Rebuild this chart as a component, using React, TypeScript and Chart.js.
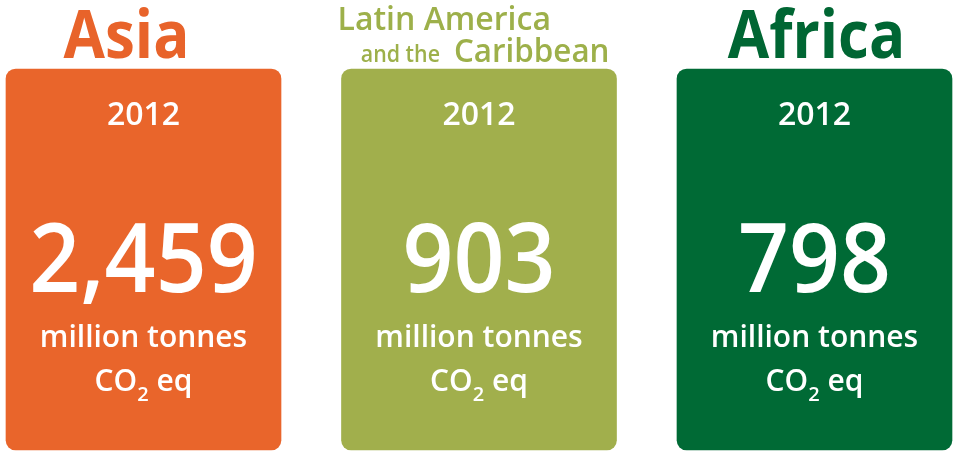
import React, { useEffect, useRef } from "react";
import { Chart, registerables } from "chart.js";

Chart.register(...registerables);

// ---- data ----
const regions = ["Asia", "Latin America and the Caribbean", "Africa"];
const years = ["2012", "2012", "2012"];
const emissions = [2459, 903, 798];
const unitLine = "million tonnes";
const unitGas = ["CO", "2", " eq"];
const boxHeight = regions.map(() => 1);

// ---- styles ----
const colors = ["#E9652B", "#A1AF4C", "#006A35"];
const titleColors = ["#E8632A", "#9DB04A", "#006633"];
const FAMILY = '"Open Sans", "Noto Sans", sans-serif';

function drawText(
  ctx: CanvasRenderingContext2D,
  text: string,
  x: number,
  y: number,
  font: string,
  align: CanvasTextAlign,
  sx = 1
) {
  ctx.save();
  ctx.font = font;
  ctx.textAlign = align;
  ctx.textBaseline = "alphabetic";
  ctx.translate(x, y);
  ctx.scale(sx, 1);
  ctx.fillText(text, 0, 0);
  ctx.restore();
}

function textWidth(ctx: CanvasRenderingContext2D, text: string, font: string, sx = 1) {
  ctx.save();
  ctx.font = font;
  const w = ctx.measureText(text).width * sx;
  ctx.restore();
  return w;
}

const textPlugin = {
  id: "cardText",
  afterDatasetsDraw(chart: any) {
    const ctx: CanvasRenderingContext2D = chart.ctx;
    const meta = chart.getDatasetMeta(0);
    const bigTitle = `700 66px ${FAMILY}`;
    const midTitle = `600 32px ${FAMILY}`;
    const smallTitle = `600 23px ${FAMILY}`;
    meta.data.forEach((bar: any, i: number) => {
      const cx = bar.x;
      const top = bar.y;
      ctx.fillStyle = titleColors[i];
      const name = regions[i];
      if (name.includes(" and the ")) {
        const [first, rest] = name.split(" and the ");
        drawText(ctx, first, cx - 141.5, top - 39, midTitle, "left", 1);
        const right = cx + 130.5;
        const wRest = textWidth(ctx, rest, `600 33px ${FAMILY}`, 0.95);
        drawText(ctx, rest, right, top - 7, `600 33px ${FAMILY}`, "right", 0.95);
        drawText(ctx, "and the", right - wRest - 14, top - 7, smallTitle, "right", 0.93);
      } else {
        const shift = i === 0 ? -17 : 2;
        drawText(ctx, name, cx + shift, top - 11, bigTitle, "center", 0.91);
      }
      // inside the card
      ctx.fillStyle = "#ffffff";
      drawText(ctx, years[i], cx, top + 56, `600 32px ${FAMILY}`, "center", 1);
      drawText(ctx, emissions[i].toLocaleString("en-US"), cx, top + 223, `600 96px ${FAMILY}`, "center", 0.93);
      drawText(ctx, unitLine, cx, top + 278, `600 30px ${FAMILY}`, "center", 1);
      const f1 = `600 30px ${FAMILY}`;
      const f2 = `600 20px ${FAMILY}`;
      const w1 = textWidth(ctx, unitGas[0], f1);
      const w2 = textWidth(ctx, unitGas[1], f2);
      const w3 = textWidth(ctx, unitGas[2], f1);
      let x = cx - (w1 + w2 + w3) / 2;
      drawText(ctx, unitGas[0], x, top + 322, f1, "left");
      x += w1;
      drawText(ctx, unitGas[1], x, top + 332, f2, "left");
      x += w2;
      drawText(ctx, unitGas[2], x, top + 322, f1, "left");
    });
  },
};

export default function App() {
  const ref = useRef<HTMLCanvasElement>(null);
  useEffect(() => {
    document.body.style.margin = "0";
    const chart = new Chart(ref.current!, {
      type: "bar",
      data: {
        labels: regions,
        datasets: [
          {
            data: boxHeight,
            backgroundColor: colors,
            borderRadius: 10,
            borderSkipped: false,
            barThickness: 275,
            clip: false as any,
          },
        ],
      },
      options: {
        responsive: false,
        animation: false,
        layout: { padding: { left: 143.5, right: 139.5, top: 69, bottom: 2 } },
        plugins: { legend: { display: false }, tooltip: { enabled: false } },
        scales: {
          x: { display: false, offset: false, grid: { display: false } },
          y: { display: false, min: 0, max: 1 },
        },
      },
      plugins: [textPlugin],
    });
    return () => chart.destroy();
  }, []);
  return (
    <div style={{ position: "absolute", left: 0, top: 0, width: 954, height: 452 }}>
      <canvas ref={ref} width={954} height={452} />
    </div>
  );
}
